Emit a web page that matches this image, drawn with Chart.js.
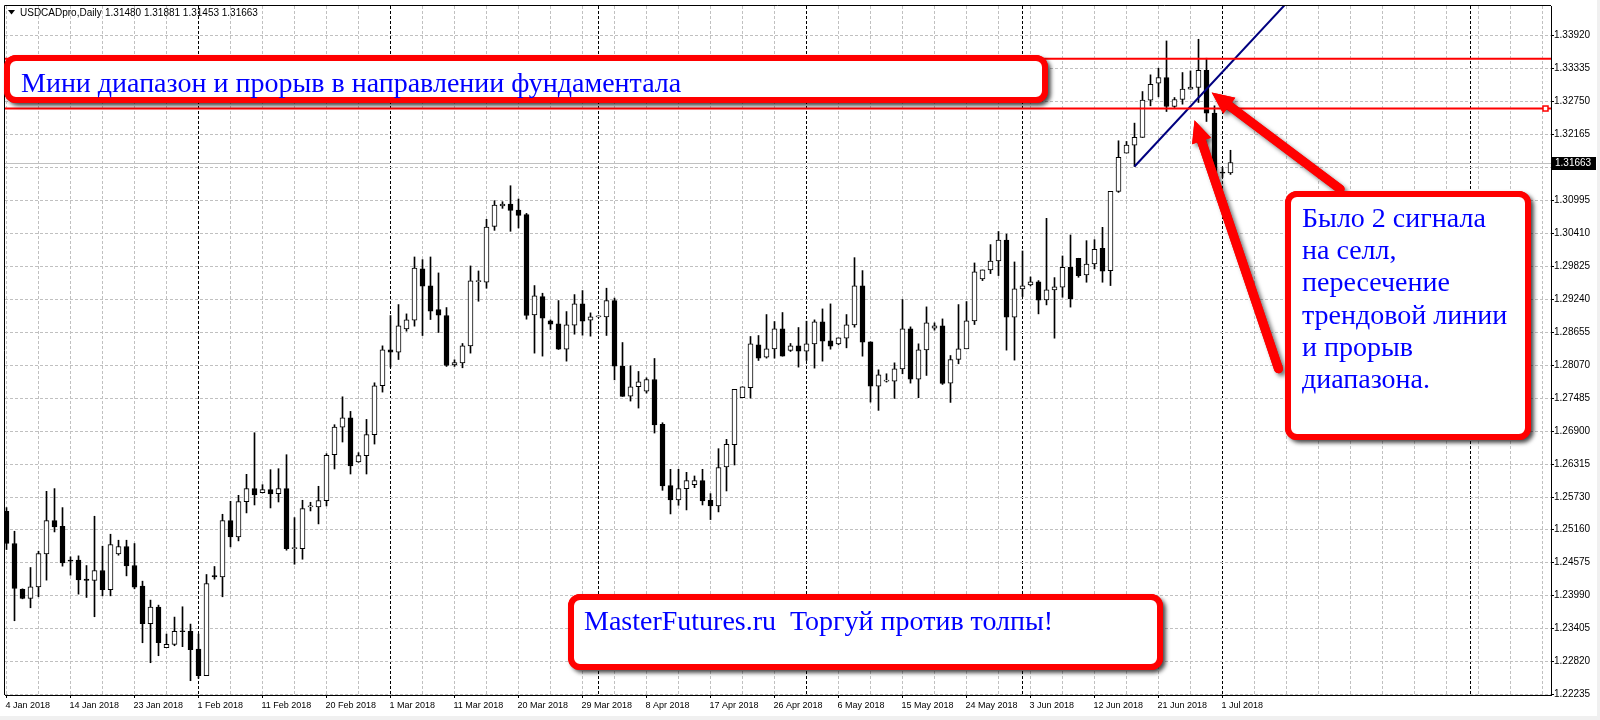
<!DOCTYPE html>
<html>
<head>
<meta charset="utf-8">
<title>USDCADpro,Daily</title>
<script src="https://cdn.jsdelivr.net/npm/chart.js@4.4.1/dist/chart.umd.min.js"></script>
<style>
  body { margin: 0; background: #fff; }
  #myChart { display: block; }
</style>
</head>
<body>
<canvas id="myChart" width="1600" height="720"></canvas>
<script>
const ctx = document.getElementById('myChart')

// daily bars, 4 Jan 2018 .. 2 Jul 2018 (index = bar number)
const opens = [1.25480,1.24908,1.24094,1.23934,1.24141,1.24725,1.25315,1.25215,1.24607,1.24613,
  1.24276,1.24253,1.24430,1.24088,1.24725,1.24855,1.24518,1.24153,1.23486,1.23781,
  1.23061,1.23120,1.23350,1.23350,1.23037,1.22565,1.24341,1.24318,1.25315,1.25026,
  1.25651,1.25881,1.25811,1.25864,1.25793,1.25881,1.24819,1.24819,1.25557,1.25557,
  1.25669,1.26483,1.26973,1.27139,1.26354,1.26466,1.26838,1.27705,1.28342,1.28301,
  1.28714,1.28868,1.29777,1.29476,1.29057,1.28951,1.28077,1.28112,1.28414,1.29553,
  1.29541,1.30532,1.30892,1.30928,1.30821,1.30739,1.28962,1.29287,1.28856,1.28803,
  1.28355,1.28779,1.29157,1.28868,1.28927,1.28927,1.29216,1.28053,1.27522,1.27688,
  1.27611,1.27817,1.27021,1.25935,1.25681,1.25882,1.25953,1.26023,1.25675,1.25575,
  1.26265,1.26661,1.27493,1.27670,1.28431,1.28213,1.28360,1.28714,1.28331,1.28413,
  1.28319,1.28449,1.28838,1.28502,1.28449,1.28549,1.28785,1.29476,1.28484,1.27699,
  1.27788,1.27788,1.28006,1.28714,1.27823,1.28343,1.28726,1.28768,1.27753,1.28171,
  1.28360,1.28856,1.29600,1.29759,1.29918,1.30290,1.28921,1.29423,1.29493,1.29547,
  1.29228,1.29405,1.29452,1.29806,1.29966,1.29671,1.29865,1.30143,1.29747,1.31152,
  1.31831,1.31972,1.32108,1.32769,1.33070,1.33170,1.32657,1.32781,1.32964,1.32993,
  1.33300,1.32539,1.31488,1.31480]
const highs = [1.25545,1.25126,1.24105,1.24483,1.24772,1.25834,1.25882,1.25545,1.24672,1.24690,
  1.24518,1.25392,1.24861,1.25073,1.24967,1.24967,1.24908,1.24241,1.23905,1.23816,
  1.23303,1.23604,1.23787,1.23480,1.23303,1.24359,1.24501,1.25427,1.25657,1.25763,
  1.26135,1.26873,1.25952,1.26218,1.26235,1.26483,1.25368,1.25675,1.25640,1.25923,
  1.26501,1.27015,1.27510,1.27251,1.26519,1.27109,1.27758,1.28413,1.28950,1.29145,
  1.28980,1.29989,1.29942,1.29989,1.29706,1.29092,1.28166,1.28455,1.29830,1.29741,
  1.30656,1.30987,1.30969,1.31252,1.31016,1.30762,1.29482,1.29346,1.28874,1.29216,
  1.29021,1.29322,1.29393,1.28998,1.28945,1.29435,1.29260,1.28472,1.28059,1.27959,
  1.27847,1.28189,1.27050,1.26224,1.26224,1.26171,1.26106,1.26224,1.25793,1.26590,
  1.26755,1.27640,1.27688,1.28579,1.28596,1.28968,1.28844,1.29004,1.28455,1.28738,
  1.28850,1.28874,1.29068,1.29157,1.28555,1.28968,1.29977,1.29747,1.28484,1.27988,
  1.27918,1.28112,1.29234,1.28750,1.28449,1.29104,1.28821,1.28891,1.28242,1.29145,
  1.29198,1.29883,1.29759,1.30208,1.30440,1.30395,1.29901,1.30095,1.29635,1.29570,
  1.30674,1.29623,1.30007,1.30379,1.29966,1.30278,1.30296,1.30514,1.31152,1.32049,
  1.32037,1.32362,1.32922,1.33218,1.33336,1.33819,1.32816,1.33259,1.33288,1.33849,
  1.33513,1.32669,1.31577,1.31881]
const lows = [1.24802,1.23539,1.23928,1.23769,1.23964,1.24259,1.25114,1.24507,1.24347,1.24011,
  1.23952,1.23610,1.23981,1.23981,1.24701,1.24335,1.24105,1.23149,1.22795,1.22919,
  1.23061,1.23096,1.23079,1.22476,1.22518,1.22565,1.24276,1.23964,1.24849,1.24955,
  1.25451,1.25592,1.25805,1.25539,1.25645,1.24790,1.24542,1.24630,1.25486,1.25256,
  1.25575,1.26230,1.26708,1.26141,1.26348,1.26141,1.26672,1.27593,1.28036,1.28171,
  1.28673,1.28762,1.28596,1.28880,1.28650,1.28048,1.28048,1.28024,1.28284,1.29204,
  1.29435,1.30461,1.30851,1.30444,1.30503,1.28886,1.28284,1.28231,1.28703,1.28349,
  1.28142,1.28620,1.28602,1.28585,1.28915,1.28597,1.27811,1.27516,1.27434,1.27310,
  1.27575,1.26867,1.25852,1.25433,1.25586,1.25504,1.25899,1.25592,1.25333,1.25469,
  1.25840,1.26301,1.27493,1.27487,1.28154,1.28195,1.28195,1.28230,1.28313,1.28036,
  1.28154,1.28018,1.28142,1.28354,1.28431,1.28378,1.28744,1.28230,1.27416,1.27269,
  1.27770,1.27481,1.27918,1.27752,1.27493,1.27888,1.28691,1.27729,1.27410,1.28095,
  1.28360,1.28791,1.29570,1.29694,1.29659,1.28337,1.28160,1.29287,1.29476,1.28980,
  1.29139,1.28549,1.29275,1.29100,1.29629,1.29541,1.29777,1.29541,1.29482,1.31134,
  1.31831,1.31594,1.32108,1.32669,1.32828,1.32568,1.32639,1.32698,1.32964,1.32728,
  1.32391,1.31311,1.31400,1.31453]
const closes = [1.24908,1.24111,1.23934,1.24141,1.24731,1.25315,1.25203,1.24566,1.24595,1.24265,
  1.24253,1.24430,1.24088,1.24890,1.24855,1.24512,1.24135,1.23486,1.23781,1.23149,
  1.23120,1.23350,1.23344,1.23025,1.22565,1.24200,1.24318,1.25315,1.25026,1.25651,
  1.25881,1.25769,1.25864,1.25787,1.25881,1.24819,1.24825,1.25527,1.25557,1.25669,
  1.26472,1.26973,1.27139,1.26283,1.26466,1.26838,1.27705,1.28342,1.28301,1.28767,
  1.28874,1.29794,1.29470,1.29027,1.28956,1.28065,1.28118,1.28414,1.29564,1.29558,
  1.30520,1.30910,1.30928,1.30815,1.30727,1.28951,1.29299,1.28903,1.28797,1.28355,
  1.28785,1.29157,1.28850,1.28927,1.28927,1.29216,1.28053,1.27516,1.27688,1.27776,
  1.27817,1.27009,1.25929,1.25681,1.25882,1.26023,1.26023,1.25663,1.25575,1.26254,
  1.26667,1.27640,1.27688,1.28449,1.28195,1.28360,1.28714,1.28230,1.28413,1.28319,
  1.28449,1.28838,1.28496,1.28407,1.28555,1.28785,1.29476,1.28478,1.27699,1.27900,
  1.27788,1.28006,1.28714,1.27823,1.28343,1.28821,1.28768,1.27747,1.28171,1.28360,
  1.28856,1.29724,1.29759,1.29918,1.30290,1.28921,1.29423,1.29476,1.29547,1.29222,
  1.29405,1.29458,1.29806,1.29245,1.29659,1.29865,1.30125,1.29736,1.31152,1.31754,
  1.31972,1.32108,1.32769,1.33052,1.33170,1.32657,1.32781,1.32964,1.32999,1.33300,
  1.32539,1.31341,1.31476,1.31663]

// one date label every 8 bars, starting at bar 0
const dateLabels = ['4 Jan 2018', '14 Jan 2018', '23 Jan 2018', '1 Feb 2018', '11 Feb 2018',
  '20 Feb 2018', '1 Mar 2018', '11 Mar 2018', '20 Mar 2018', '29 Mar 2018', '8 Apr 2018',
  '17 Apr 2018', '26 Apr 2018', '6 May 2018', '15 May 2018', '24 May 2018', '3 Jun 2018',
  '12 Jun 2018', '21 Jun 2018', '1 Jul 2018']
const monthStarts = [24, 48, 74, 100, 127, 152, 183] // bar numbers of period separators
const yTicks = [1.22235, 1.22820, 1.23405, 1.23990, 1.24575, 1.25160, 1.25730, 1.26315, 1.26900,
  1.27485, 1.28070, 1.28655, 1.29240, 1.29825, 1.30410, 1.30995, 1.31580, 1.32165, 1.32750,
  1.33335, 1.33920]

// drawings on the chart
const rangeTop = 1.33504
const rangeBottom = 1.32621
const trendFrom = { x: 141, y: 1.31594 }
const trendTo = { x: 160, y: 1.34490 }
const arrows = [
  { from: { x: 166.7, y: 1.31194 }, to: { x: 150.65, y: 1.32904 } },
  { from: { x: 159.0, y: 1.28007 }, to: { x: 148.5, y: 1.32415 } }
]
const titleText = 'Мини диапазон и прорыв в направлении фундаментала'
const noteLines = ['Было 2 сигнала', 'на селл,', 'пересечение', 'трендовой линии', 'и прорыв', 'диапазона.']
const footerText = 'MasterFutures.ru  Торгуй против толпы!'

const last = closes.length - 1
const xMin = -0.1875
const xMax = 193.0625
const yMin = 1.222226
const yMax = 1.344387

let xGrid = []
for (let v = 0; v <= 192; v += 4) xGrid.push(v)
monthStarts.forEach(m => { if (!xGrid.includes(m)) xGrid.push(m) })
xGrid.sort((a, b) => a - b)

function labelAt(v) {
  if (v % 8 !== 0) return ''
  return dateLabels[v / 8] || ''
}

const bodies = opens.map((o, i) => ({ x: i, y: [o, closes[i]] }))
const wicks = lows.map((l, i) => ({ x: i, y: [l, highs[i]] }))

function card(c, x, y, w, h) {
  c.save()
  c.lineWidth = 6
  c.strokeStyle = '#ff0000'
  c.fillStyle = '#ffffff'
  c.shadowColor = 'rgba(0,0,0,0.6)'
  c.shadowBlur = 4
  c.shadowOffsetX = 3
  c.shadowOffsetY = 3
  c.beginPath(); c.roundRect(x, y, w, h, 9); c.fill(); c.stroke()
  c.shadowColor = 'rgba(0,0,0,0)'
  c.beginPath(); c.roundRect(x, y, w, h, 9); c.fill(); c.stroke()
  c.restore()
}

function redArrow(c, x1, y1, x2, y2) {
  const ang = Math.atan2(y2 - y1, x2 - x1)
  const headLen = 22, headHalf = 10
  const bx = x2 - Math.cos(ang) * headLen
  const by = y2 - Math.sin(ang) * headLen
  const nx = -Math.sin(ang), ny = Math.cos(ang)
  const paint = () => {
    c.beginPath(); c.moveTo(x1, y1); c.lineTo(bx, by); c.stroke()
    c.beginPath(); c.moveTo(x2, y2)
    c.lineTo(bx + nx * headHalf, by + ny * headHalf)
    c.lineTo(bx - nx * headHalf, by - ny * headHalf)
    c.closePath(); c.fill()
  }
  c.save()
  c.strokeStyle = '#ff0000'
  c.fillStyle = '#ff0000'
  c.lineWidth = 9
  c.lineCap = 'round'
  c.lineJoin = 'round'
  c.shadowColor = 'rgba(0,0,0,0.55)'
  c.shadowBlur = 4
  c.shadowOffsetX = 3
  c.shadowOffsetY = 3
  paint()
  c.shadowColor = 'rgba(0,0,0,0)'
  paint()
  c.restore()
}

const overlay = {
  id: 'overlay',
  beforeDraw(chart) {
    const c = chart.ctx
    c.save()
    c.fillStyle = '#ffffff'
    c.fillRect(0, 0, chart.width, chart.height)
    c.fillStyle = '#f0f0f0'
    c.fillRect(1597, 0, 3, chart.height)
    c.fillRect(0, 716, chart.width, 4)
    c.restore()
  },
  beforeDatasetsDraw(chart) {
    // bid line
    const { ctx: c, chartArea: a, scales: { y } } = chart
    const py = Math.round(y.getPixelForValue(closes[last])) + 0.5
    c.save()
    c.strokeStyle = '#c0c0c0'
    c.lineWidth = 1
    c.beginPath(); c.moveTo(a.left, py); c.lineTo(a.right, py); c.stroke()
    c.restore()
  },
  afterDatasetsDraw(chart) {
    // little anchor square on the lower range line
    const { ctx: c, chartArea: a, scales: { y } } = chart
    const py = y.getPixelForValue(rangeBottom)
    c.save()
    c.fillStyle = '#ffffff'
    c.strokeStyle = '#ff0000'
    c.lineWidth = 1.5
    c.fillRect(a.right - 8, py - 2.5, 5, 5)
    c.strokeRect(a.right - 8, py - 2.5, 5, 5)
    c.restore()
  },
  afterDraw(chart) {
    const { ctx: c, chartArea: a, scales: { x, y } } = chart
    c.save()
    // frame top and left
    c.strokeStyle = '#000'
    c.lineWidth = 1
    c.beginPath()
    c.moveTo(a.left - 0.5, a.bottom); c.lineTo(a.left - 0.5, a.top - 0.5); c.lineTo(a.right, a.top - 0.5)
    c.stroke()

    // current price tag
    const py = Math.round(y.getPixelForValue(closes[last]))
    c.fillStyle = '#000'
    c.fillRect(a.right + 1, py - 6, 44, 13)
    c.fillStyle = '#fff'
    c.font = '10px "Liberation Sans"'
    c.textBaseline = 'middle'
    c.fillText(closes[last].toFixed(5), a.right + 4, py + 0.5)

    // header
    c.fillStyle = '#000'
    c.beginPath(); c.moveTo(8, 10); c.lineTo(15, 10); c.lineTo(11.5, 14.5); c.closePath(); c.fill()
    c.fillText('USDCADpro,Daily', 20, 13)
    c.fillText([opens[last], highs[last], lows[last], closes[last]].map(v => v.toFixed(5)).join(' '), 105, 13)
    c.restore()

    arrows.forEach(ar => {
      redArrow(c, x.getPixelForValue(ar.from.x), y.getPixelForValue(ar.from.y),
        x.getPixelForValue(ar.to.x), y.getPixelForValue(ar.to.y))
    })

    card(c, 7, 58, 1038, 42)
    card(c, 1288, 194, 240, 243)
    card(c, 571, 597, 589, 70)

    c.save()
    c.fillStyle = '#0000ff'
    c.font = '28px "Liberation Serif"'
    c.textBaseline = 'alphabetic'
    c.fillText(titleText, 21, 92)
    noteLines.forEach((t, i) => c.fillText(t, 1302, 227 + i * 32.2))
    c.fillText(footerText, 584, 630)
    c.restore()
  }
}

const mychart = new Chart(ctx, {
  type: 'bar',
  data: {
    datasets: [
      {
        type: 'line', label: 'range top',
        data: [{ x: xMin, y: rangeTop }, { x: xMax, y: rangeTop }],
        borderColor: '#ff0000', borderWidth: 2, pointRadius: 0, order: 0
      },
      {
        type: 'line', label: 'range bottom',
        data: [{ x: xMin, y: rangeBottom }, { x: xMax, y: rangeBottom }],
        borderColor: '#ff0000', borderWidth: 2, pointRadius: 0, order: 0
      },
      {
        type: 'line', label: 'trend',
        data: [trendFrom, trendTo],
        borderColor: '#000080', borderWidth: 2, pointRadius: 0, order: 0
      },
      {
        label: 'body', data: bodies,
        backgroundColor: c => (c.dataIndex !== undefined && closes[c.dataIndex] >= opens[c.dataIndex]) ? '#ffffff' : '#000000',
        borderColor: '#000', borderWidth: 1, borderSkipped: false,
        barThickness: 5, grouped: false, minBarLength: 1, order: 1
      },
      {
        label: 'wick', data: wicks,
        backgroundColor: '#000', borderWidth: 0,
        barThickness: 1, grouped: false, order: 2
      }
    ]
  },
  options: {
    responsive: false,
    animation: false,
    devicePixelRatio: 1,
    layout: { autoPadding: false, padding: { left: 5, top: 5, right: 0, bottom: 0 } },
    plugins: { legend: { display: false }, tooltip: { enabled: false } },
    scales: {
      x: {
        type: 'linear', min: xMin, max: xMax, offset: false,
        afterBuildTicks: s => { s.ticks = xGrid.map(v => ({ value: v })) },
        afterFit: s => { s.height = 25 },
        grid: {
          offset: false,
          color: c => (c.tick && monthStarts.includes(c.tick.value)) ? '#000' : '#c0c0c0',
          tickLength: 3,
          tickColor: c => (c.tick && labelAt(c.tick.value)) ? '#000' : 'rgba(0,0,0,0)'
        },
        border: { display: true, color: '#000', dash: [3, 2] },
        ticks: {
          autoSkip: false, maxRotation: 0, align: 'start', padding: 2, labelOffset: -1,
          color: '#000', font: { family: 'Liberation Sans', size: 9 },
          callback: v => labelAt(v)
        }
      },
      y: {
        position: 'right', min: yMin, max: yMax, beginAtZero: false,
        afterBuildTicks: s => { s.ticks = yTicks.map(v => ({ value: v })) },
        afterFit: s => { s.width = 49 },
        grid: { color: '#c0c0c0', tickLength: 3, tickColor: '#000' },
        border: { display: true, color: '#000', dash: [3, 2] },
        ticks: {
          padding: 0, color: '#000', font: { family: 'Liberation Sans', size: 10 },
          callback: v => v.toFixed(5)
        }
      }
    }
  },
  plugins: [overlay]
})
</script>
</body>
</html>
